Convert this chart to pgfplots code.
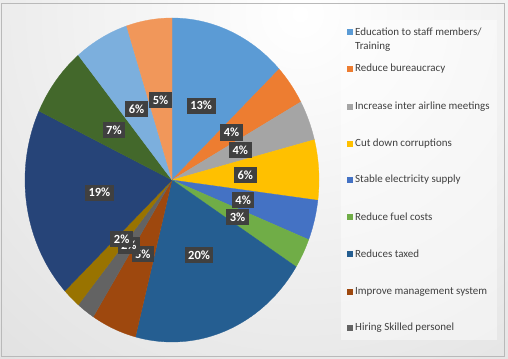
\documentclass[border=0pt]{standalone}
\usepackage{pgfplots}
\pgfplotsset{compat=1.18}
\usepackage{pgfplotstable}
\usepackage{fontspec}
\setmainfont{Carlito}

\definecolor{c0}{HTML}{5B9BD5}
\definecolor{c1}{HTML}{ED7D31}
\definecolor{c2}{HTML}{A5A5A5}
\definecolor{c3}{HTML}{FFC000}
\definecolor{c4}{HTML}{4472C4}
\definecolor{c5}{HTML}{70AD47}
\definecolor{c6}{HTML}{255E91}
\definecolor{c7}{HTML}{9E480E}
\definecolor{c8}{HTML}{636363}
\definecolor{c9}{HTML}{997300}
\definecolor{c10}{HTML}{264478}
\definecolor{c11}{HTML}{43682B}
\definecolor{c12}{HTML}{7CAFDD}
\definecolor{c13}{HTML}{F1975A}
\definecolor{lblbg}{HTML}{404040}
\definecolor{legtext}{HTML}{404040}

% share of each answer, in percent, clockwise from the top
\pgfplotstableread{
idx value
0 13
1 4
2 4
3 6
4 4
5 3
6 20
7 5
8 2
9 2
10 19
11 7
12 6
13 5
}\piedata

% cumulative angles from the table
\gdef\cum{0}
\foreach \i in {0,...,13}{%
  \pgfplotstablegetelem{\i}{value}\of\piedata
  \pgfmathsetmacro\pa{90-3.6*\cum}%
  \pgfmathsetmacro\pb{90-3.6*(\cum+\pgfplotsretval)}%
  \pgfmathsetmacro\pm{(\pa+\pb)/2}%
  \expandafter\xdef\csname pa\i\endcsname{\pa}%
  \expandafter\xdef\csname pb\i\endcsname{\pb}%
  \expandafter\xdef\csname pm\i\endcsname{\pm}%
  \expandafter\xdef\csname pv\i\endcsname{\pgfplotsretval}%
  \pgfmathsetmacro\pc{\cum+\pgfplotsretval}%
  \xdef\cum{\pc}%
}

\newcommand\pieslice[1]{%
  \edef\temp{\noexpand\addplot[draw=c#1, line width=0.3pt, fill=c#1,
     domain=\csname pb#1\endcsname:\csname pa#1\endcsname, samples=80,
     variable=\noexpand\t]
     ({cos(\noexpand\t)},{sin(\noexpand\t)}) -- (axis cs:0,0) -- cycle;}%
  \temp}
\newcommand\pielabel[1]{%
  \edef\temp{\noexpand\node[lbl] at (axis cs:{0.5*cos(\csname pm#1\endcsname)},{0.5*sin(\csname pm#1\endcsname)})
     {\csname pv#1\endcsname\noexpand\%};}%
  \temp}

\begin{document}
\begin{tikzpicture}[
  lbl/.style={fill=lblbg, text=white, font=\fontsize{12.5}{14}\selectfont\bfseries,
     inner xsep=3.5bp, inner ysep=3.8bp},
  legt/.style={anchor=west, text=legtext, font=\fontsize{11}{13}\selectfont, inner sep=0pt}]
\useasboundingbox (0,0) rectangle (508bp,359bp);
% background
\begin{scope}
  \clip (0,0) rectangle (508bp,359bp);
  \shade[inner color=white, outer color=gray!38] (300bp,345bp) circle (760bp);
\end{scope}
\draw[gray!55, line width=0.8bp] (1bp,3bp) rectangle (504bp,355.5bp);
% legend box
\fill[white, fill opacity=0.45] (341bp,19bp) rectangle (497bp,339bp);

\begin{axis}[at={(172bp,179bp)}, anchor=origin, hide axis, scale only axis,
  width=294bp, height=324bp, xmin=-1, xmax=1, ymin=-1, ymax=1,
  clip=false]
\pgfplotsinvokeforeach{0,...,13}{\pieslice{#1}}
\pgfplotsinvokeforeach{0,...,13}{\pielabel{#1}}
\end{axis}

% legend
\foreach \yy/\cc/\txt in {
  327/c0/{Education to staff members/},
  290/c1/{Reduce bureaucracy},
  252/c2/{Increase inter airline meetings},
  215/c3/{Cut down corruptions},
  179/c4/{Stable electricity supply},
  142/c5/{Reduce fuel costs},
  105/c6/{Reduces taxed},
  67/c7/{Improve management system},
  31/c8/{Hiring Skilled personel}}{
  \fill[\cc] (346.5bp,\yy bp-3bp) rectangle +(6bp,6bp);
  \node[legt] at (355bp,\yy bp) {\txt};
}
\node[legt] at (355bp,312bp) {Training};
\end{tikzpicture}
\end{document}
